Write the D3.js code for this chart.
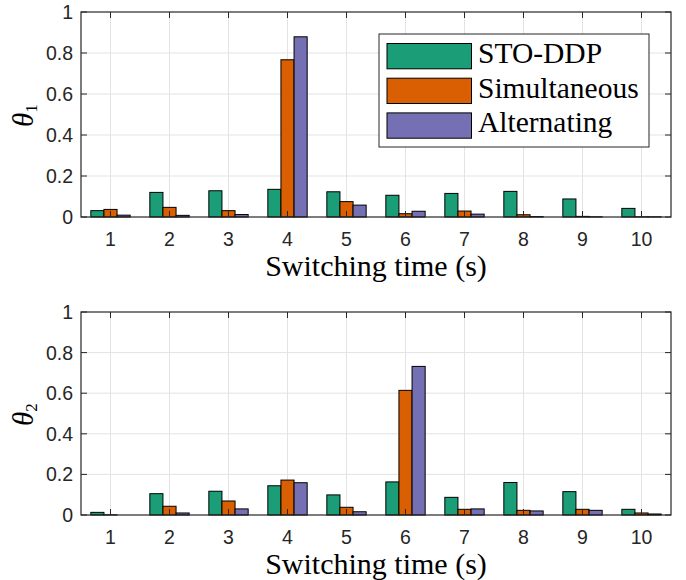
<!DOCTYPE html>
<html>
<head>
<meta charset="utf-8">
<script src="https://cdn.jsdelivr.net/npm/d3@7"></script>
<style>
  html, body { margin: 0; padding: 0; background: #fff; }
  svg { display: block; }
</style>
</head>
<body>
<svg id="chart" width="686" height="580"></svg>
<script>
// ---- data ----
const categories = [1, 2, 3, 4, 5, 6, 7, 8, 9, 10];
const seriesNames = ["STO-DDP", "Simultaneous", "Alternating"];
const seriesColors = ["#1b9e77", "#d95f02", "#7570b3"];
const theta1_STO = [0.031, 0.120, 0.128, 0.135, 0.123, 0.106, 0.115, 0.125, 0.088, 0.042];
const theta1_Sim = [0.037, 0.047, 0.031, 0.767, 0.075, 0.016, 0.029, 0.011, 0.003, 0.001];
const theta1_Alt = [0.009, 0.008, 0.012, 0.879, 0.058, 0.028, 0.014, 0.002, 0.001, 0.001];
const theta2_STO = [0.013, 0.105, 0.117, 0.144, 0.099, 0.163, 0.087, 0.160, 0.115, 0.028];
const theta2_Sim = [0.001, 0.043, 0.069, 0.172, 0.038, 0.614, 0.028, 0.023, 0.028, 0.010];
const theta2_Alt = [0.000, 0.010, 0.030, 0.159, 0.016, 0.732, 0.030, 0.020, 0.023, 0.005];
const yTicks = [0, 0.2, 0.4, 0.6, 0.8, 1];
const yTickLabels = ["0", "0.2", "0.4", "0.6", "0.8", "1"];
const xLabel = "Switching time (s)";

const svg = d3.select("#chart");
const axisColor = "#262626";
const gridColor = "#e3e3e3";
const sansFont = "Liberation Sans, Arial, sans-serif";
const serifFont = "Liberation Serif, Times New Roman, serif";

function drawPanel(opts) {
  const { left, right, top, bottom, series, sub, showLegend } = opts;
  const g = svg.append("g");
  const x = d3.scaleLinear().domain([0.5, 10.5]).range([left, right]);
  const y = d3.scaleLinear().domain([0, 1]).range([bottom, top]);
  const groupWidth = 2 / 3;
  const barW = groupWidth / 3;

  // grid
  g.append("g").selectAll("line").data(categories).join("line")
    .attr("x1", d => x(d)).attr("x2", d => x(d))
    .attr("y1", top).attr("y2", bottom)
    .attr("stroke", gridColor).attr("stroke-width", 1);
  g.append("g").selectAll("line").data(yTicks.slice(1, -1)).join("line")
    .attr("x1", left).attr("x2", right)
    .attr("y1", d => y(d)).attr("y2", d => y(d))
    .attr("stroke", gridColor).attr("stroke-width", 1);

  // bars
  series.forEach((vals, si) => {
    g.append("g").selectAll("rect").data(vals).join("rect")
      .attr("x", (v, i) => x(categories[i] - groupWidth / 2 + si * barW))
      .attr("width", x(barW) - x(0))
      .attr("y", v => y(v))
      .attr("height", v => Math.max(0, y(0) - y(v)))
      .attr("fill", seriesColors[si])
      .attr("stroke", "#000").attr("stroke-width", 1);
  });

  // ticks (inward, both sides)
  const tl = 6;
  const tg = g.append("g").attr("stroke", axisColor).attr("stroke-width", 1);
  categories.forEach(c => {
    tg.append("line").attr("x1", x(c)).attr("x2", x(c)).attr("y1", bottom).attr("y2", bottom - tl);
    tg.append("line").attr("x1", x(c)).attr("x2", x(c)).attr("y1", top).attr("y2", top + tl);
  });
  yTicks.forEach(t => {
    tg.append("line").attr("x1", left).attr("x2", left + tl).attr("y1", y(t)).attr("y2", y(t));
    tg.append("line").attr("x1", right).attr("x2", right - tl).attr("y1", y(t)).attr("y2", y(t));
  });

  // box
  g.append("rect").attr("x", left).attr("y", top)
    .attr("width", right - left).attr("height", bottom - top)
    .attr("fill", "none").attr("stroke", axisColor).attr("stroke-width", 1.2);

  // tick labels
  g.append("g").selectAll("text").data(categories).join("text")
    .attr("x", d => x(d)).attr("y", bottom + 28.5)
    .attr("text-anchor", "middle")
    .attr("font-family", sansFont).attr("font-size", 19.5)
    .attr("fill", axisColor).text(d => d);
  g.append("g").selectAll("text").data(yTicks).join("text")
    .attr("x", left - 8).attr("y", d => y(d) + 7)
    .attr("text-anchor", "end")
    .attr("font-family", sansFont).attr("font-size", 19.5)
    .attr("fill", axisColor).text((d, i) => yTickLabels[i]);

  // x label
  g.append("text").attr("x", (left + right) / 2).attr("y", bottom + 59)
    .attr("text-anchor", "middle")
    .attr("font-family", serifFont).attr("font-size", 30)
    .attr("fill", "#000").text(xLabel);

  // y label
  const yl = g.append("text")
    .attr("transform", `translate(33,${(top + bottom) / 2 + 1}) rotate(-90)`)
    .attr("text-anchor", "middle")
    .attr("font-family", serifFont).attr("font-size", 29)
    .attr("fill", "#000");
  yl.append("tspan").attr("font-style", "italic").text("θ");
  yl.append("tspan").attr("font-size", 17).attr("dy", 4).text(sub);

  if (showLegend) {
    const lx = 379, ly = 34, lw = 270, lh = 113;
    const lg = g.append("g");
    lg.append("rect").attr("x", lx).attr("y", ly).attr("width", lw).attr("height", lh)
      .attr("fill", "#fff").attr("stroke", axisColor).attr("stroke-width", 1);
    seriesNames.forEach((name, i) => {
      const sy = ly + 9.5 + i * 34.7;
      lg.append("rect").attr("x", lx + 8).attr("y", sy)
        .attr("width", 84.5).attr("height", 25.3)
        .attr("fill", seriesColors[i]).attr("stroke", "#000").attr("stroke-width", 1);
      lg.append("text").attr("x", lx + 99).attr("y", sy + 19.5)
        .attr("font-family", serifFont).attr("font-size", 29.5)
        .attr("fill", "#000").text(name);
    });
  }
}

drawPanel({ left: 81, right: 671, top: 12, bottom: 217,
  series: [theta1_STO, theta1_Sim, theta1_Alt], sub: "1", showLegend: true });
drawPanel({ left: 81, right: 671, top: 312, bottom: 515,
  series: [theta2_STO, theta2_Sim, theta2_Alt], sub: "2", showLegend: false });
</script>
</body>
</html>
